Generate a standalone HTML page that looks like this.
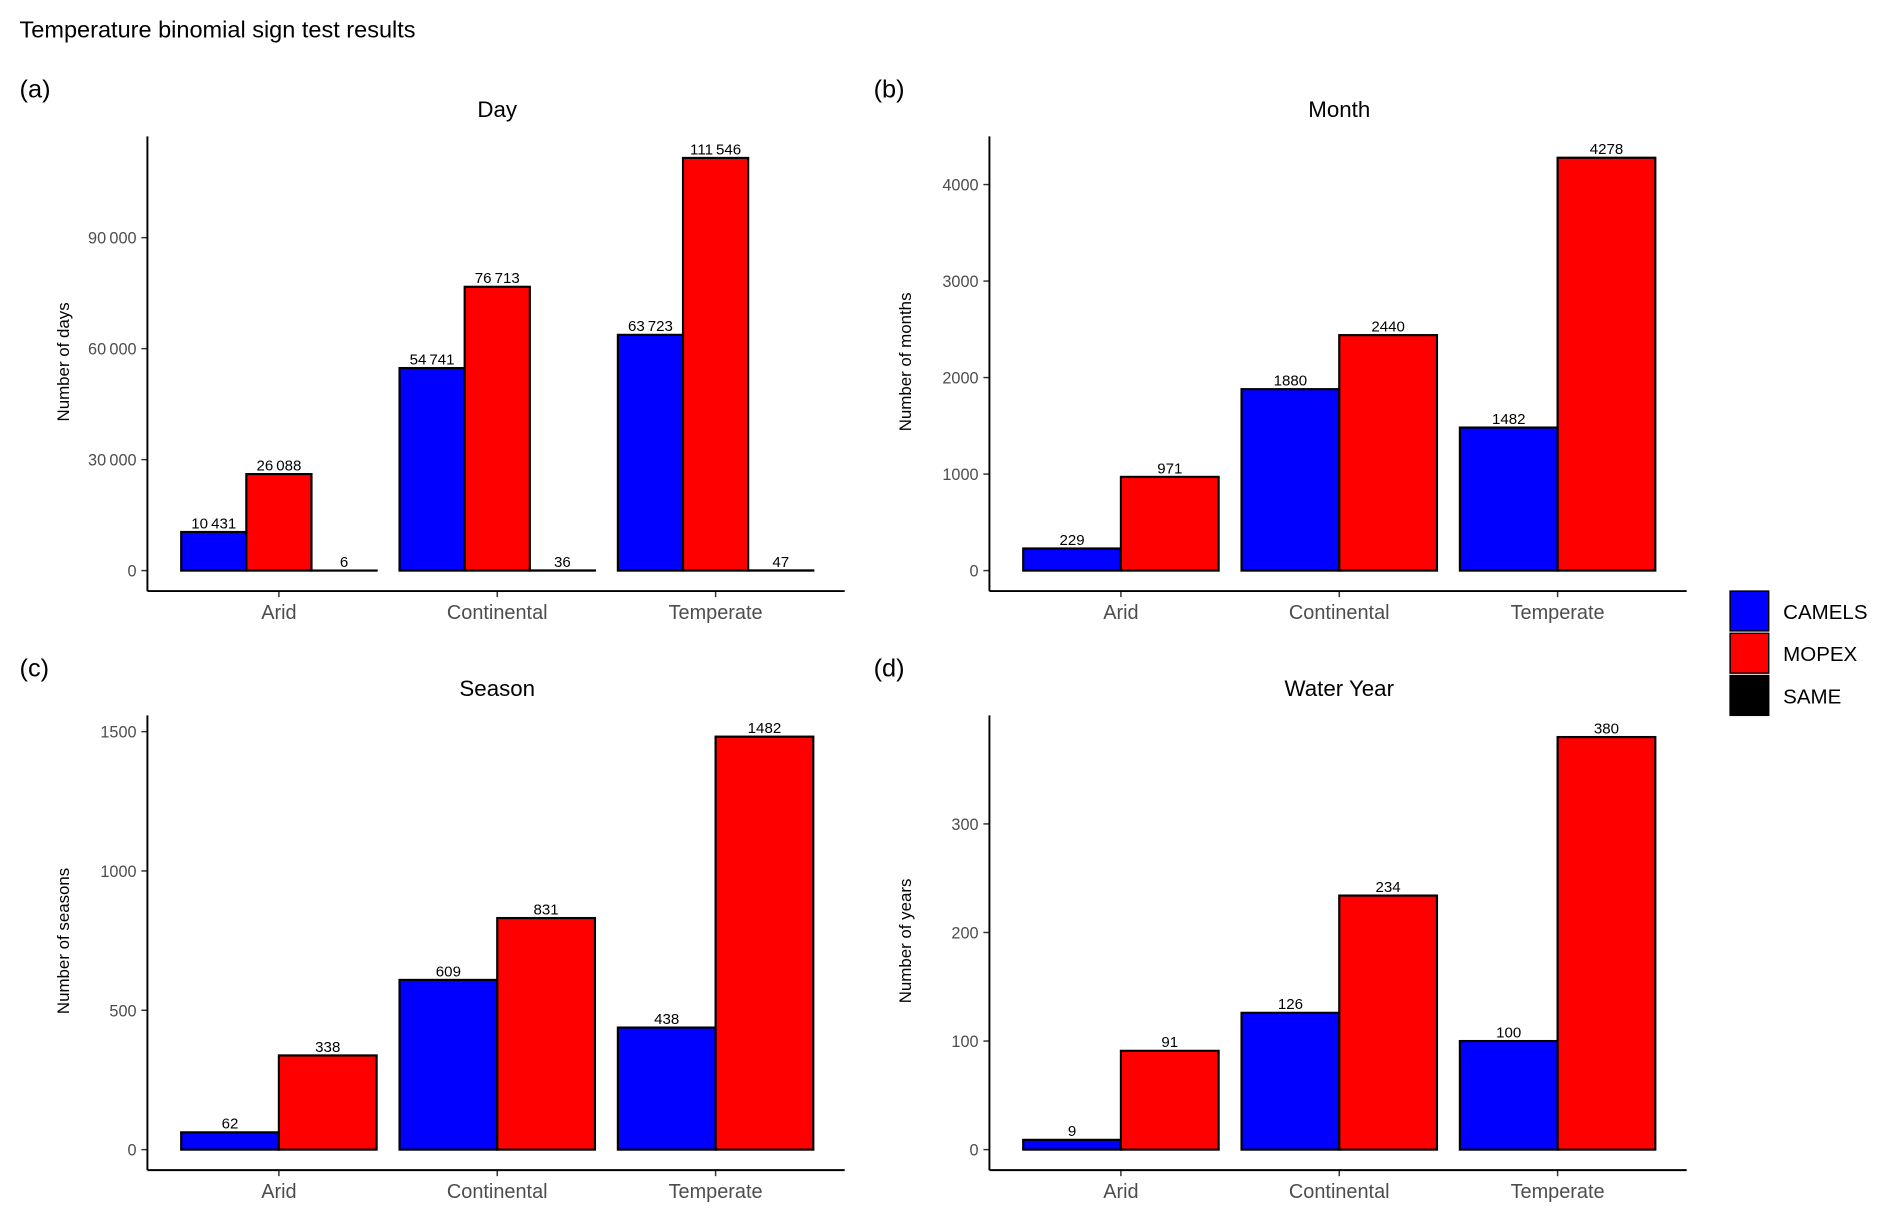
<!DOCTYPE html>
<html><head><meta charset="utf-8"><style>
html,body{margin:0;padding:0;background:#fff;}
svg{display:block;font-family:"Liberation Sans",sans-serif;}
</style></head><body>
<svg id="chart" width="1892" height="1222" viewBox="0 0 1568 1013" xmlns="http://www.w3.org/2000/svg">
<rect x="0" y="0" width="1568" height="1013" fill="#fff"/>
<text x="16" y="31" font-size="19.5" fill="#000">Temperature binomial sign test results</text>
<g>
<rect x="1434" y="490" width="32" height="33" fill="#0000ff" stroke="#000" stroke-width="1.2"/>
<rect x="1434" y="525" width="32" height="33" fill="#ff0000" stroke="#000" stroke-width="1.2"/>
<rect x="1434" y="560" width="32" height="33" fill="#000" stroke="#000" stroke-width="1.2"/>
<text x="1478" y="513" font-size="17">CAMELS</text>
<text x="1478" y="548" font-size="17">MOPEX</text>
<text x="1478" y="583" font-size="17">SAME</text>
</g>
</svg>
<script>
const categories = ["Arid", "Continental", "Temperate"];
const dayCamels = [10431, 54741, 63723];
const dayMopex = [26088, 76713, 111546];
const daySame = [6, 36, 47];
const dayTicks = [0, 30000, 60000, 90000];
const monthCamels = [229, 1880, 1482];
const monthMopex = [971, 2440, 4278];
const monthTicks = [0, 1000, 2000, 3000, 4000];
const seasonCamels = [62, 609, 438];
const seasonMopex = [338, 831, 1482];
const seasonTicks = [0, 500, 1000, 1500];
const yearCamels = [9, 126, 100];
const yearMopex = [91, 234, 380];
const yearTicks = [0, 100, 200, 300];

const NS = "http://www.w3.org/2000/svg";
const svg = document.getElementById("chart");
function mk(tag, attrs, parent, txt) {
  const e = document.createElementNS(NS, tag);
  for (const k in attrs) e.setAttribute(k, attrs[k]);
  if (txt !== undefined) e.textContent = txt;
  parent.appendChild(e);
  return e;
}
function fmt(v) {
  const s = String(v);
  if (s.length <= 4) return s;
  return s.replace(/\B(?=(\d{3})+(?!\d))/g, "\u2009");
}
function panel(p) {
  const g = mk("g", {}, svg);
  
  
  const yScale = v => p.y0 - v * p.pxPer;
  const lab = mk("text", {x: p.labX, y: p.top - 32, "font-size": 21}, g, "(" + p.id + ")");
  
  
  const t = mk("text", {x: p.ax + 290, y: p.top - 16, "font-size": 18.5, "text-anchor": "middle"}, g, p.title);
  
  
  const yt = mk("text", {x: 0, y: 0, "font-size": 14, "text-anchor": "middle", transform: "translate(" + (p.ax - 65) + "," + (p.top + 187) + ") rotate(-90)"}, g, p.ylab);
  
  
  const groupW = 162, nb = p.series.length;
  const bw = groupW / nb;
  categories.forEach((c, i) => {
    const cx = p.ax + 109 + i * 181;
    const left = cx - groupW / 2;
    p.series.forEach((s, j) => {
      const v = s.vals[i];
      const x = left + j * bw;
      const yTop = yScale(v);
      const r = mk("rect", {x: x, y: yTop, width: bw, height: Math.max(p.y0 - yTop, 0.01), fill: s.color, stroke: "#000", "stroke-width": 1.8}, g);
      
      
      const vl = mk("text", {x: x + bw / 2, y: yTop - 3, "font-size": 12.5, "text-anchor": "middle"}, g, fmt(v));
      
      
    });
    mk("line", {x1: cx, x2: cx, y1: p.bottom, y2: p.bottom + 5, stroke: "#333", "stroke-width": 1.2}, g);
    const xl = mk("text", {x: cx, y: p.bottom + 23, "font-size": 16.5, fill: "#4d4d4d", "text-anchor": "middle"}, g, c);
    
    
  });
  p.ticks.forEach(v => {
    const y = yScale(v);
    mk("line", {x1: p.ax - 5, x2: p.ax, y1: y, y2: y, stroke: "#333", "stroke-width": 1.2}, g);
    const tl = mk("text", {x: p.ax - 9, y: y + 5, "font-size": 13.5, fill: "#4d4d4d", "text-anchor": "end"}, g, fmt(v));
    
    
  });
  const ya = mk("line", {x1: p.ax, x2: p.ax, y1: p.top, y2: p.bottom, stroke: "#000", "stroke-width": 1.6}, g);
  
  
  const xa = mk("line", {x1: p.ax, x2: p.ax + 578, y1: p.bottom, y2: p.bottom, stroke: "#000", "stroke-width": 1.6}, g);
  
  
}
const BLUE = "#0000ff", RED = "#ff0000";
panel({id: "a", labX: 16, title: "Day", ylab: "Number of days", ax: 122, top: 113, bottom: 490, y0: 473, pxPer: 92 / 30000, ticks: dayTicks,
  series: [{name: "camels", vals: dayCamels, color: BLUE}, {name: "mopex", vals: dayMopex, color: RED}, {name: "same", vals: daySame, color: "#000"}]});
panel({id: "b", labX: 724, title: "Month", ylab: "Number of months", ax: 820, top: 113, bottom: 490, y0: 473, pxPer: 80 / 1000, ticks: monthTicks,
  series: [{name: "camels", vals: monthCamels, color: BLUE}, {name: "mopex", vals: monthMopex, color: RED}]});
panel({id: "c", labX: 16, title: "Season", ylab: "Number of seasons", ax: 122, top: 593, bottom: 970, y0: 953, pxPer: 115.5 / 500, ticks: seasonTicks,
  series: [{name: "camels", vals: seasonCamels, color: BLUE}, {name: "mopex", vals: seasonMopex, color: RED}]});
panel({id: "d", labX: 724, title: "Water Year", ylab: "Number of years", ax: 820, top: 593, bottom: 970, y0: 953, pxPer: 90 / 100, ticks: yearTicks,
  series: [{name: "camels", vals: yearCamels, color: BLUE}, {name: "mopex", vals: yearMopex, color: RED}]});
</script>
</body></html>
